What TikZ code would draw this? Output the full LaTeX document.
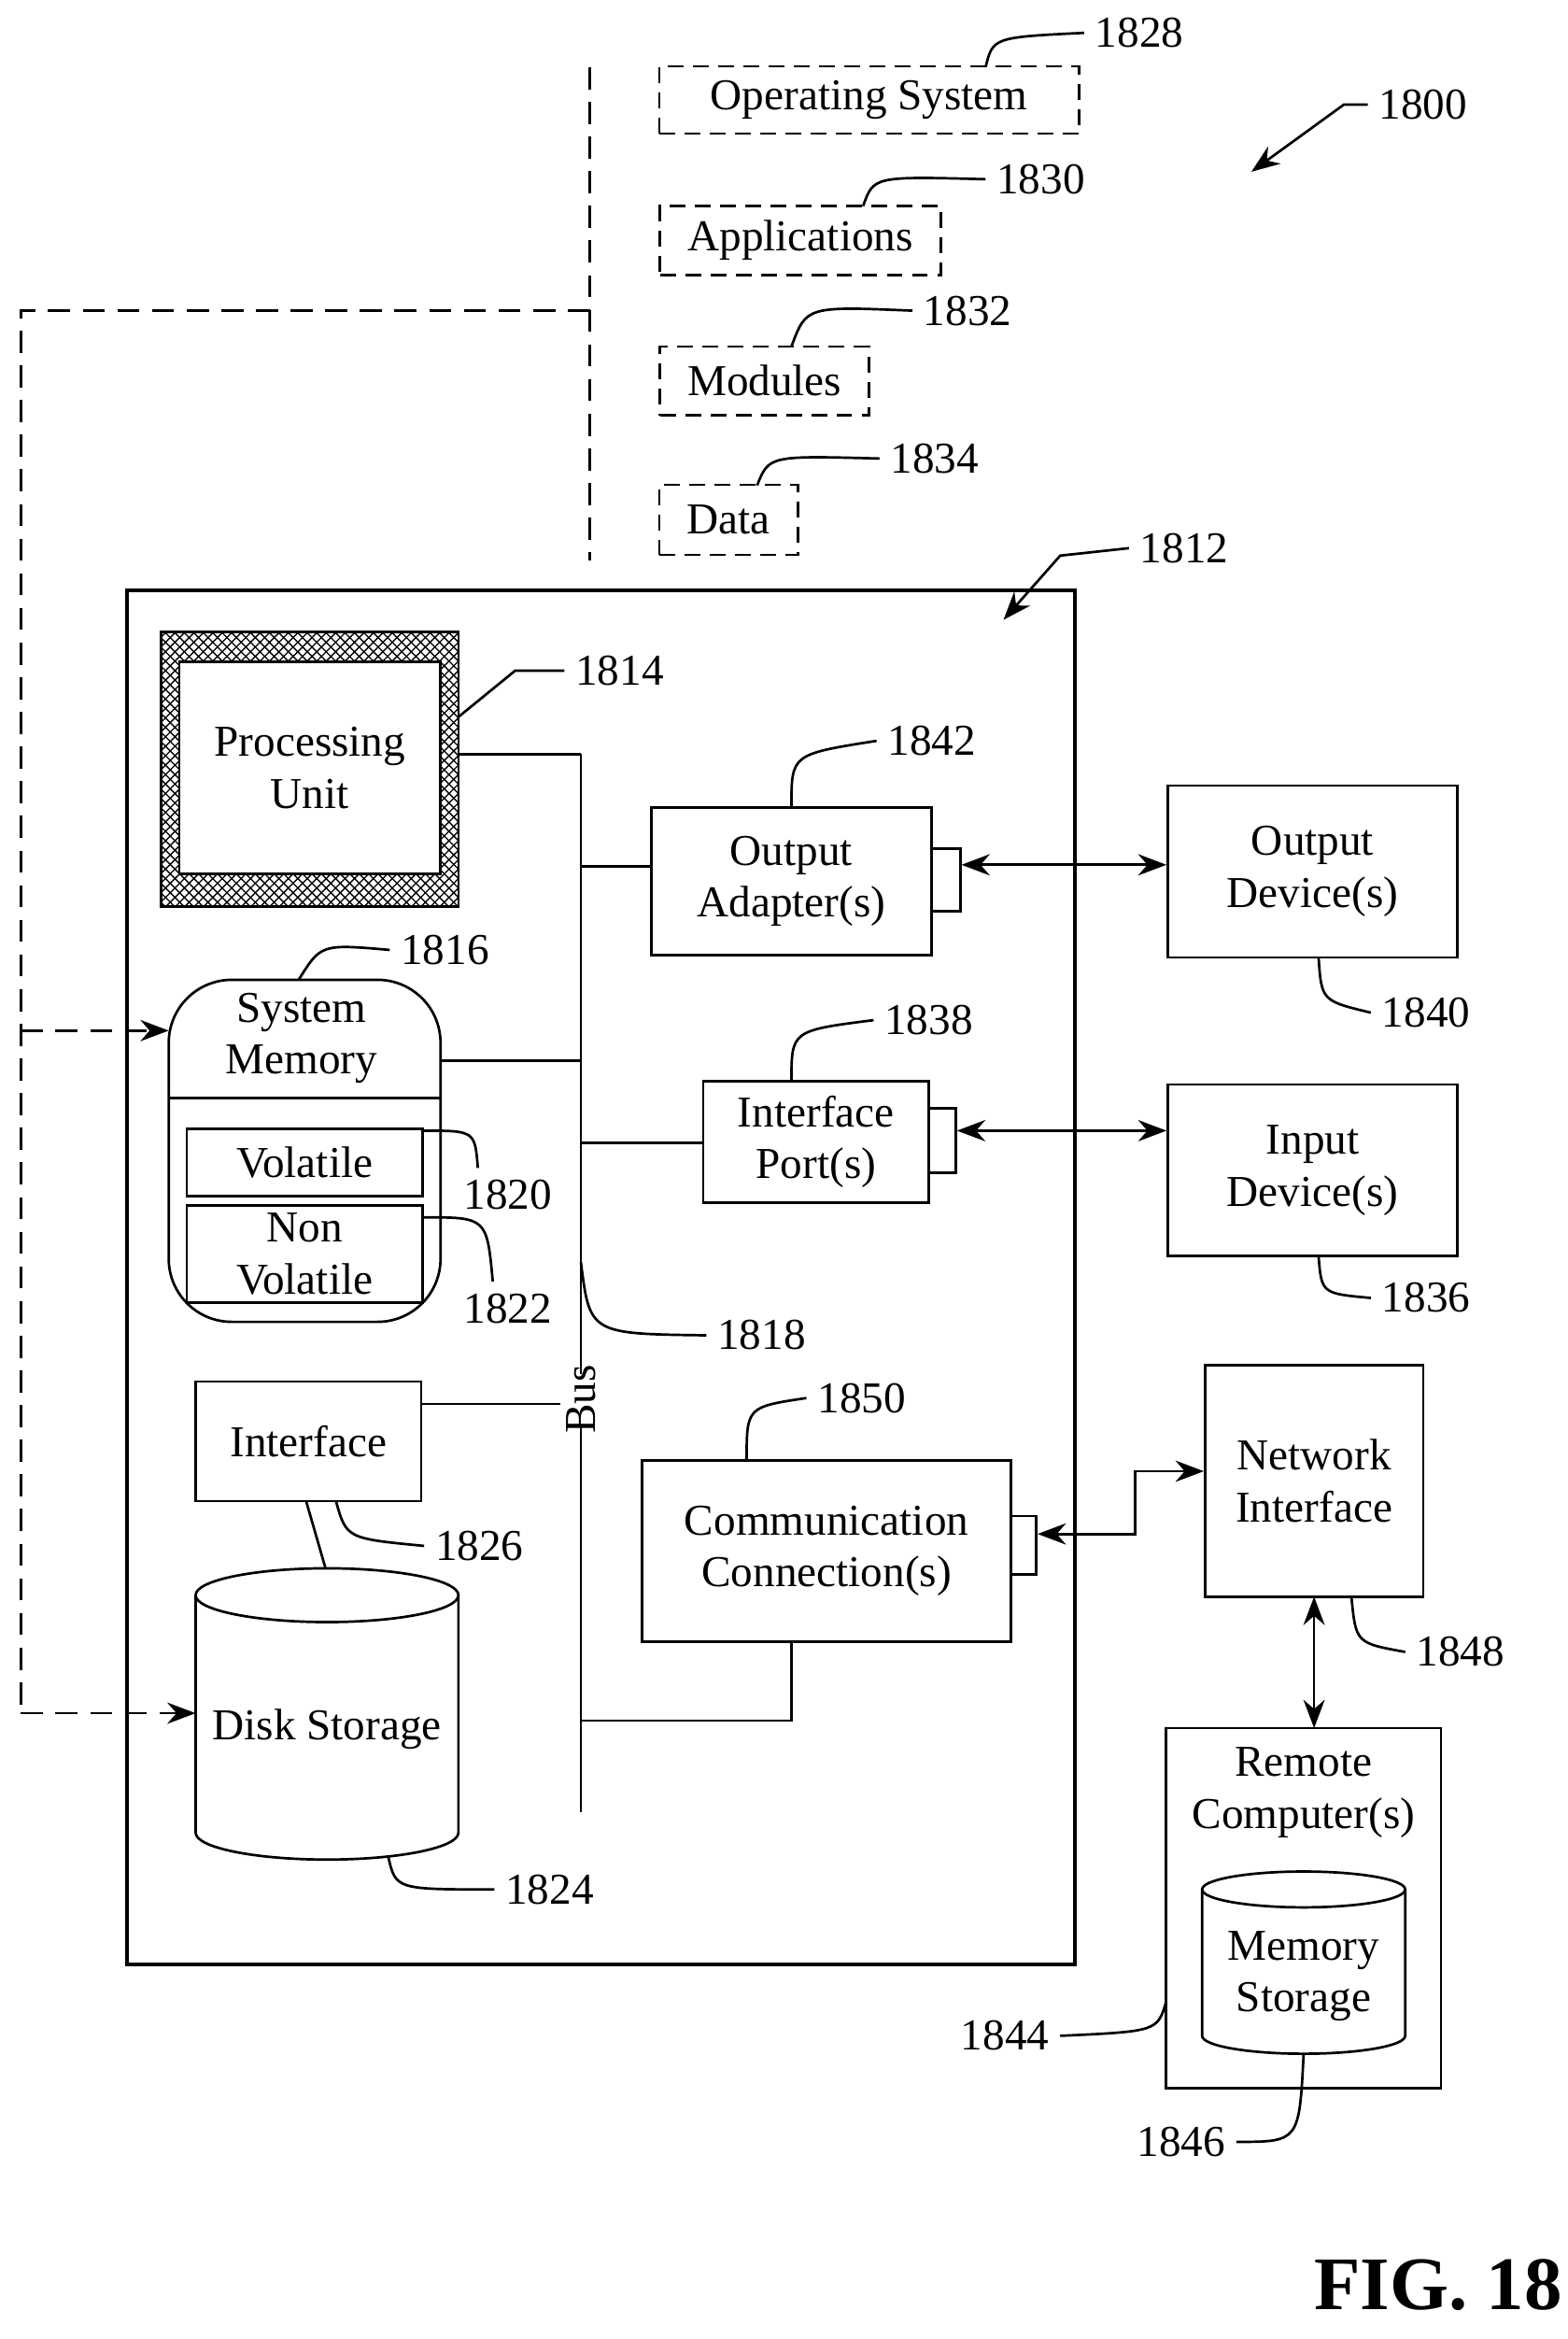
\documentclass[tikz,border=0pt]{standalone}
\usepackage{fontspec}
\setmainfont{Liberation Serif}
\usetikzlibrary{positioning,patterns,arrows.meta}
\def\u{0.01667cm}
\begin{document}
\begin{tikzpicture}[x=\u,y=-\u,
font=\fontsize{14}{16.5}\selectfont,
box/.style={draw,thick,rectangle,align=center,inner sep=0pt},
dbox/.style={draw,thick,dash pattern=on 5pt off 3pt,rectangle,align=center,inner sep=0pt},
dline/.style={thick,dash pattern=on 7pt off 4pt},
lead/.style={thick},
conn/.style={thick},
bi/.style={thick,{Stealth[length=9pt]}-{Stealth[length=9pt]}},
one/.style={thick,-{Stealth[length=9pt]}}]
\useasboundingbox (0,0) rectangle (1050,1566);

% software
\draw[dline] (395,45) -- (395,375);
\node (os) [dbox,minimum width=281*\u,minimum height=45*\u] at (582,67) {Operating System};
\node (apps) [dbox,minimum width=188*\u,minimum height=46*\u] at (536,161) {Applications};
\node (mods) [dbox,minimum width=140*\u,minimum height=46*\u] at (512,255) {Modules};
\node (data) [dbox,minimum width=93*\u,minimum height=47*\u] at (488,348) {Data};
\node (l1828) at (763,22) {1828};
\node (l1830) at (697,120) {1830};
\node (l1832) at (648,208) {1832};
\node (l1834) at (626,307) {1834};
\draw[lead] (660,45) .. controls (665,25) .. (l1828.west);
\draw[lead] (578,138) .. controls (585,118) .. (l1830.west);
\draw[lead] (530,232) .. controls (540,205) .. (l1832.west);
\draw[lead] (507,325) .. controls (515,305) .. (l1834.west);
\node (l1800) at (953,70) {1800};
\draw[one] (l1800.west) -- (900,70) -- (838,115);

% computer
\node (comp) [draw,very thick,minimum width=635*\u,minimum height=920*\u] at (402.5,855) {};
\node (l1812) at (793,367) {1812};
\draw[one] (l1812.west) -- (710,372) -- (672,415);

\coordinate (busT) at (389,505);
\coordinate (busB) at (389,1213);
\draw[conn] (busT) -- (389,920);
\draw[conn] (389,955) -- (busB);
\node (bus) [rotate=90] at (389,937) {Bus};

\node (pu) [draw,thick,pattern=crosshatch,minimum width=199*\u,minimum height=184*\u] at (207.5,515) {};
\node (puin) [box,fill=white,minimum width=175*\u,minimum height=142*\u] at (207.5,514) {Processing\\Unit};
\node (l1814) at (415,449) {1814};
\draw[lead] (307,480) -- (345,449) -- (l1814.west);
\draw[conn] (pu.east |- busT) -- (busT);

\node (oa) [box,minimum width=188*\u,minimum height=99*\u] at (530,590) {Output\\Adapter(s)};
\node (oap) [box,minimum width=19*\u,minimum height=42*\u] at (633.5,589) {};
\draw[conn] (389,580) -- (oa.west |- 0,580);
\node (l1842) at (624,496) {1842};
\draw[lead] (oa.north) .. controls (530,505) .. (l1842.west);
\node (od) [box,minimum width=194*\u,minimum height=115*\u] at (879,583.5) {Output\\Device(s)};
\draw[bi] (oap.east |- 0,579) -- (od.west |- 0,579);
\node (l1840) at (955,678) {1840};
\draw[lead] (883,641) .. controls (885,670) .. (l1840.west);

\node (sm) [draw,thick,rounded corners=20pt,minimum width=182*\u,minimum height=229*\u] at (204,770.5) {};
\node (smt) [align=center] at (202,695) {System\\Memory};
\draw[thick] (113,735) -- (295,735);
\node (vol) [box,minimum width=158*\u,minimum height=45*\u] at (204,778.5) {Volatile};
\node (nvol) [box,minimum width=158*\u,minimum height=65*\u] at (204,839.5) {Non\\Volatile};
\draw[conn] (sm.east |- 0,710) -- (389,710);
\node (l1816) at (298,636) {1816};
\draw[lead] (200,656) .. controls (215,632) .. (l1816.west);
\node (l1820) at (340,800) {1820};
\draw[lead] (283,757) .. controls (318,757) .. (320,782);
\node (l1822) at (340,876) {1822};
\draw[lead] (283,815) .. controls (326,815) .. (330,858);

\node (ip) [box,minimum width=151*\u,minimum height=81*\u] at (546.5,764.5) {Interface\\Port(s)};
\node (ipp) [box,minimum width=18*\u,minimum height=43*\u] at (631,763.5) {};
\draw[conn] (389,765) -- (ip.west |- 0,765);
\node (l1838) at (622,683) {1838};
\draw[lead] (530,724) .. controls (530,690) .. (l1838.west);
\node (id) [box,minimum width=194*\u,minimum height=115*\u] at (879,783.5) {Input\\Device(s)};
\draw[bi] (ipp.east |- 0,757) -- (id.west |- 0,757);
\node (l1836) at (955,869) {1836};
\draw[lead] (883,841) .. controls (885,866) .. (l1836.west);
\node (l1818) at (510,894) {1818};
\draw[lead] (389,845) .. controls (395,893) .. (l1818.west);

\node (intf) [box,minimum width=151*\u,minimum height=80*\u] at (206.5,965) {Interface};
\draw[conn] (intf.east |- 0,940) -- (375,940);
\node (l1826) at (321,1035) {1826};
\draw[lead] (225,1005) .. controls (232,1030) .. (l1826.west);

% disk storage
\draw[thick] (131,1068) -- (131,1227) arc[start angle=180,end angle=360,x radius=88,y radius=-18] -- (307,1068);
\draw[thick] (219,1068) ellipse[x radius=88,y radius=18];
\node (disk) at (219,1158) {Disk Storage};
\draw[conn] (205,1005) -- (218,1050);
\node (l1824) at (368,1265) {1824};
\draw[lead] (260,1243) .. controls (265,1265) .. (l1824.west);

\node (cc) [box,minimum width=247*\u,minimum height=121*\u] at (553.5,1038.5) {Communication\\Connection(s)};
\node (ccp) [box,minimum width=17*\u,minimum height=39*\u] at (685.5,1034.5) {};
\node (l1850) at (577,936) {1850};
\draw[lead] (500,978) .. controls (500,942) .. (l1850.west);
\coordinate (ccb) at (530,1099);
\draw[conn] (389,1152) -- (530,1152) -- (ccb);

\node (ni) [box,minimum width=146*\u,minimum height=155*\u] at (880,991.5) {Network\\Interface};
\draw[bi] (ccp.east |- 0,1027) -- (760,1027) -- (760,985) -- (ni.west |- 0,985);
\node (l1848) at (978,1106) {1848};
\draw[lead] (905,1069) .. controls (908,1100) .. (l1848.west);

\node (rc) [box,minimum width=184*\u,minimum height=241*\u] at (873,1277.5) {};
\node (rct) [align=center] at (873,1200) {Remote\\Computer(s)};
\draw[bi] (880,1069) -- (880,1157);
\draw[thick] (805,1265) -- (805,1363) arc[start angle=180,end angle=360,x radius=68,y radius=-12] -- (941,1265);
\draw[thick] (873,1265) ellipse[x radius=68,y radius=12];
\node (ms) [align=center] at (873,1323) {Memory\\Storage};
\node (l1844) at (673,1363) {1844};
\draw[lead] (l1844.east) .. controls (775,1360) .. (781,1340);
\node (l1846) at (791,1434) {1846};
\draw[lead] (l1846.east) .. controls (870,1434) .. (873,1375);

% dashed links
\draw[dline] (395,208) -- (14,208) -- (14,1147);
\draw[dline,-{Stealth[length=9pt]}] (14,1147) -- (131,1147);
\draw[dline,-{Stealth[length=9pt]}] (14,690) -- (113,690);

\node (fig) [font=\fontsize{24}{28}\selectfont\bfseries] at (963,1530) {FIG. 18};
\end{tikzpicture}
\end{document}
